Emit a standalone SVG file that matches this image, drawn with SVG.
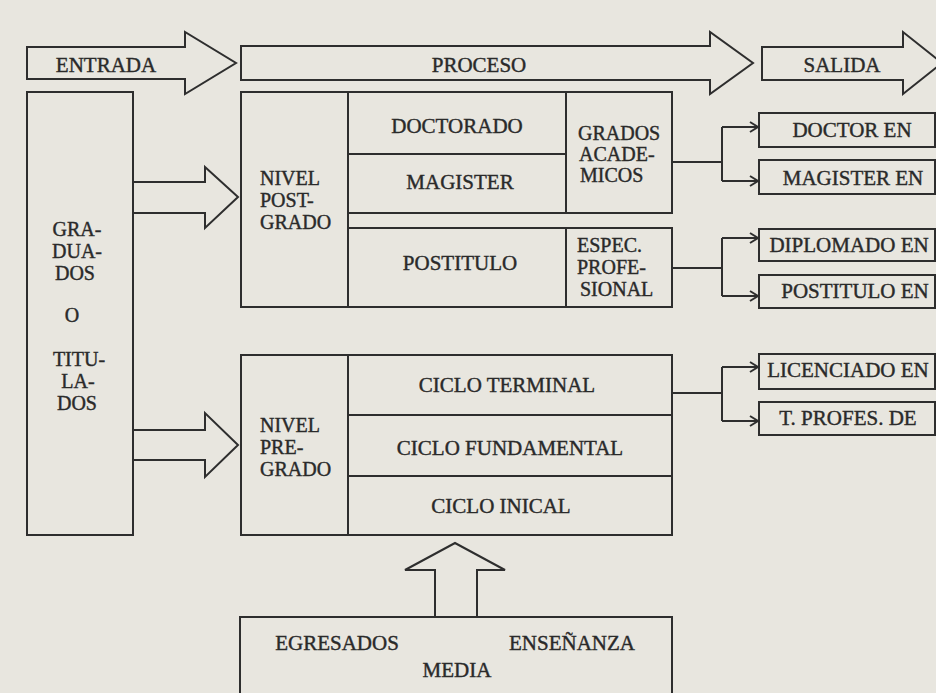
<svg xmlns="http://www.w3.org/2000/svg" width="936" height="693" viewBox="0 0 936 693">
<defs>
<style>
.bx{fill:none;stroke:#2e2e2e;stroke-width:2}
.ln{fill:none;stroke:#2e2e2e;stroke-width:2}
.t{font-family:"Liberation Serif","Times New Roman",serif;font-size:21px;fill:#2a2a2a;stroke:#2a2a2a;stroke-width:0.4}
.s{font-size:20px}
.m{text-anchor:middle}
</style>
<marker id="ah" markerWidth="12" markerHeight="12" refX="10" refY="6" orient="auto" markerUnits="userSpaceOnUse"><path d="M2,1 L10,6 L2,11" fill="none" stroke="#2e2e2e" stroke-width="2"/></marker>
</defs>
<rect width="936" height="693" fill="#e8e6df"/>

<g id="entrada">
<polygon class="bx" points="27,47 185,47 185,32 236,63 185,94 185,79 27,79"/>
<text class="t m" x="106" y="72">ENTRADA</text>
</g>
<g id="proceso">
<polygon class="bx" points="241,46 710,46 710,32 753,63 710,94 710,80 241,80"/>
<text class="t m" x="479" y="72">PROCESO</text>
</g>
<g id="salida">
<polygon class="bx" points="762,47 903,47 903,32 942,63 903,94 903,80 762,80"/>
<text class="t m" x="842" y="72">SALIDA</text>
</g>

<g id="graduados">
<rect class="bx" x="27" y="92" width="106" height="443"/>
<text class="t s m" x="77" y="236">GRA-</text>
<text class="t s m" x="77" y="258">DUA-</text>
<text class="t s m" x="75" y="280">DOS</text>
<text class="t s m" x="72" y="322">O</text>
<text class="t s m" x="79" y="366">TITU-</text>
<text class="t s m" x="78" y="388">LA-</text>
<text class="t s m" x="77" y="410">DOS</text>
</g>

<g id="nivel-postgrado">
<rect class="bx" x="241" y="92" width="107" height="215"/>
<text class="t s" x="260" y="185">NIVEL</text>
<text class="t s" x="260" y="207">POST-</text>
<text class="t s" x="260" y="229">GRADO</text>
</g>
<g id="doctorado">
<rect class="bx" x="348" y="92" width="218" height="62"/>
<text class="t m" x="457" y="133">DOCTORADO</text>
</g>
<g id="magister">
<rect class="bx" x="348" y="154" width="218" height="59"/>
<text class="t m" x="460" y="189">MAGISTER</text>
</g>
<g id="grados-academicos">
<rect class="bx" x="566" y="92" width="106" height="121"/>
<text class="t s" x="578" y="140">GRADOS</text>
<text class="t s" x="579" y="161">ACADE-</text>
<text class="t s" x="580" y="182">MICOS</text>
</g>
<g id="postitulo">
<rect class="bx" x="348" y="228" width="218" height="79"/>
<text class="t m" x="460" y="270">POSTITULO</text>
</g>
<g id="espec-profesional">
<rect class="bx" x="566" y="228" width="106" height="79"/>
<text class="t s" x="577" y="252">ESPEC.</text>
<text class="t s" x="577" y="274">PROFE-</text>
<text class="t s" x="580" y="296">SIONAL</text>
</g>

<g id="nivel-pregrado">
<rect class="bx" x="241" y="355" width="107" height="180"/>
<text class="t s" x="260" y="432">NIVEL</text>
<text class="t s" x="260" y="454">PRE-</text>
<text class="t s" x="260" y="476">GRADO</text>
</g>
<g id="ciclo-terminal">
<rect class="bx" x="348" y="355" width="324" height="60"/>
<text class="t m" x="507" y="392">CICLO TERMINAL</text>
</g>
<g id="ciclo-fundamental">
<rect class="bx" x="348" y="415" width="324" height="61"/>
<text class="t m" x="510" y="455">CICLO FUNDAMENTAL</text>
</g>
<g id="ciclo-inicial">
<rect class="bx" x="348" y="476" width="324" height="59"/>
<text class="t m" x="501" y="513">CICLO INICAL</text>
</g>

<g id="egresados">
<rect class="bx" x="240" y="617" width="432" height="90"/>
<text class="t m" x="337" y="650">EGRESADOS</text>
<text class="t m" x="572" y="650">ENSEÑANZA</text>
<text class="t m" x="457" y="677">MEDIA</text>
</g>

<g id="doctor-en">
<rect class="bx" x="759" y="113" width="176" height="34"/>
<text class="t m" x="852" y="137">DOCTOR EN</text>
</g>
<g id="magister-en">
<rect class="bx" x="759" y="160" width="176" height="34"/>
<text class="t m" x="853" y="185">MAGISTER EN</text>
</g>
<g id="diplomado-en">
<rect class="bx" x="759" y="229" width="176" height="32"/>
<text class="t m" x="849" y="252">DIPLOMADO EN</text>
</g>
<g id="postitulo-en">
<rect class="bx" x="759" y="275" width="176" height="33"/>
<text class="t m" x="855" y="298">POSTITULO EN</text>
</g>
<g id="licenciado-en">
<rect class="bx" x="759" y="354" width="176" height="35"/>
<text class="t m" x="848" y="377">LICENCIADO EN</text>
</g>
<g id="t-profes-de">
<rect class="bx" x="759" y="402" width="176" height="33"/>
<text class="t m" x="848" y="425">T. PROFES. DE</text>
</g>

<g id="connectors">
<path class="ln" d="M133,182 H205 V167 L238,197 L205,228 V213 H133"/>
<path class="ln" d="M133,430 H205 V413 L238,445 L205,477 V460 H133"/>
<path class="ln" d="M435,617 V570 H405 L455,543 L505,570 H477 V617"/>
<path class="ln" d="M672,162 H722"/>
<path class="ln" d="M722,127 V181"/>
<path class="ln" d="M722,127 H758" marker-end="url(#ah)"/>
<path class="ln" d="M722,181 H758" marker-end="url(#ah)"/>
<path class="ln" d="M672,268 H722"/>
<path class="ln" d="M722,238 V296"/>
<path class="ln" d="M722,238 H758" marker-end="url(#ah)"/>
<path class="ln" d="M722,296 H758" marker-end="url(#ah)"/>
<path class="ln" d="M672,393 H722"/>
<path class="ln" d="M722,367 V421"/>
<path class="ln" d="M722,367 H758" marker-end="url(#ah)"/>
<path class="ln" d="M722,421 H758" marker-end="url(#ah)"/>
</g>
</svg>
